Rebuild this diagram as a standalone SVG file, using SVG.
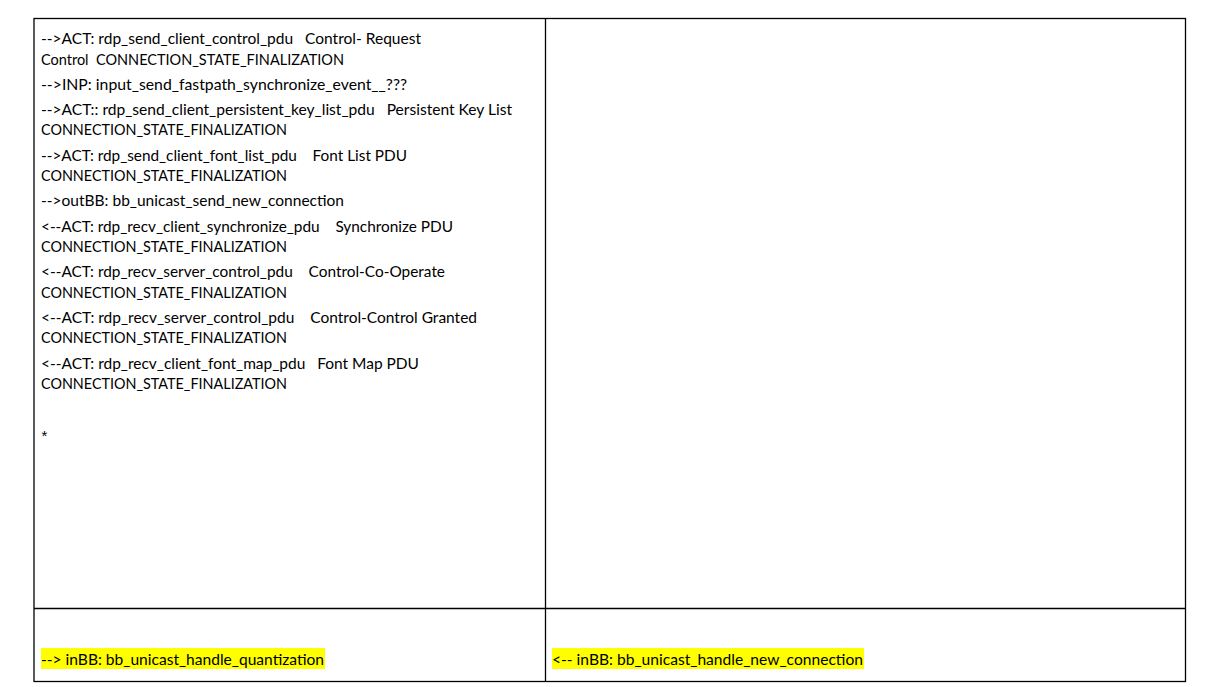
<svg xmlns="http://www.w3.org/2000/svg" width="1215" height="687" viewBox="0 0 1215 687">
<style>
.t{font-family:Lato,"Liberation Sans",sans-serif;font-size:15px;fill:#000;white-space:pre}
.star{font-family:"Liberation Sans",sans-serif;font-size:15px;fill:#000}
.hl{fill:#ffff00}
.ln{stroke:#000;stroke-width:1.3;fill:none}
</style>
<rect x="0" y="0" width="1215" height="687" fill="#fff"/>
<g id="table-grid">
<rect class="ln" x="34" y="18.5" width="1151.5" height="663"/>
<line class="ln" x1="545.5" y1="18.5" x2="545.5" y2="681.5"/>
<line class="ln" x1="34" y1="608.5" x2="1185.5" y2="608.5"/>
</g>
<g id="cell-top-left">
<text class="t" x="41" y="44" textLength="380" lengthAdjust="spacingAndGlyphs">--&gt;ACT: rdp_send_client_control_pdu   Control- Request</text>
<text class="t" x="41" y="64.5" textLength="303" lengthAdjust="spacingAndGlyphs">Control  CONNECTION_STATE_FINALIZATION</text>
<text class="t" x="41" y="89.7" textLength="366" lengthAdjust="spacingAndGlyphs">--&gt;INP: input_send_fastpath_synchronize_event__???</text>
<text class="t" x="41" y="114.9" textLength="471" lengthAdjust="spacingAndGlyphs">--&gt;ACT:: rdp_send_client_persistent_key_list_pdu   Persistent Key List</text>
<text class="t" x="41" y="135.4" textLength="246" lengthAdjust="spacingAndGlyphs">CONNECTION_STATE_FINALIZATION</text>
<text class="t" x="41" y="160.6" textLength="366" lengthAdjust="spacingAndGlyphs">--&gt;ACT: rdp_send_client_font_list_pdu    Font List PDU</text>
<text class="t" x="41" y="181.1" textLength="246" lengthAdjust="spacingAndGlyphs">CONNECTION_STATE_FINALIZATION</text>
<text class="t" x="41" y="206.3" textLength="303" lengthAdjust="spacingAndGlyphs">--&gt;outBB: bb_unicast_send_new_connection</text>
<text class="t" x="41" y="231.5" textLength="412" lengthAdjust="spacingAndGlyphs">&lt;--ACT: rdp_recv_client_synchronize_pdu    Synchronize PDU</text>
<text class="t" x="41" y="252" textLength="246" lengthAdjust="spacingAndGlyphs">CONNECTION_STATE_FINALIZATION</text>
<text class="t" x="41" y="277.2" textLength="404" lengthAdjust="spacingAndGlyphs">&lt;--ACT: rdp_recv_server_control_pdu    Control-Co-Operate</text>
<text class="t" x="41" y="297.7" textLength="246" lengthAdjust="spacingAndGlyphs">CONNECTION_STATE_FINALIZATION</text>
<text class="t" x="41" y="322.9" textLength="436" lengthAdjust="spacingAndGlyphs">&lt;--ACT: rdp_recv_server_control_pdu    Control-Control Granted</text>
<text class="t" x="41" y="343.4" textLength="246" lengthAdjust="spacingAndGlyphs">CONNECTION_STATE_FINALIZATION</text>
<text class="t" x="41" y="368.6" textLength="378" lengthAdjust="spacingAndGlyphs">&lt;--ACT: rdp_recv_client_font_map_pdu   Font Map PDU</text>
<text class="t" x="41" y="389.1" textLength="246" lengthAdjust="spacingAndGlyphs">CONNECTION_STATE_FINALIZATION</text>
<text class="star" x="41.5" y="441">*</text>
</g>
<g id="cell-top-right"></g>
<g id="cell-bottom-left">
<rect class="hl" x="41" y="648" width="284" height="21"/>
<text class="t" x="41" y="664.5" textLength="283" lengthAdjust="spacingAndGlyphs">--&gt; inBB: bb_unicast_handle_quantization</text>
</g>
<g id="cell-bottom-right">
<rect class="hl" x="552" y="648" width="312" height="21"/>
<text class="t" x="552" y="664.5" textLength="311" lengthAdjust="spacingAndGlyphs">&lt;-- inBB: bb_unicast_handle_new_connection</text>
</g>
</svg>
